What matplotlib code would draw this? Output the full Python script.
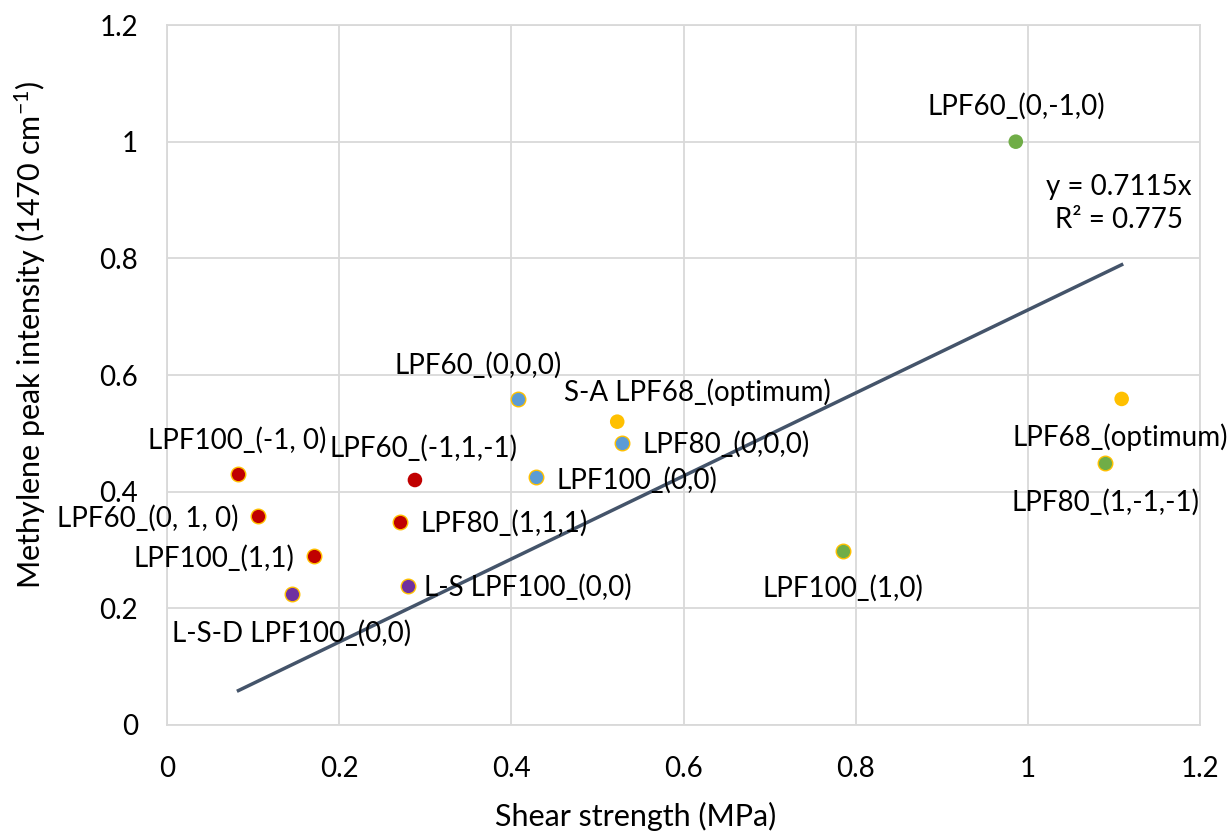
import matplotlib
matplotlib.use('Agg')
import matplotlib.pyplot as plt
import numpy as np

plt.rcParams['font.family'] = ['Lato', 'DejaVu Sans']
plt.rcParams['mathtext.fontset'] = 'custom'
plt.rcParams['mathtext.rm'] = 'Lato'
plt.rcParams['mathtext.it'] = 'Lato:italic'

# data
labels = ['LPF60_(0,-1,0)', 'LPF60_(0,0,0)', 'S-A LPF68_(optimum)', 'LPF80_(0,0,0)',
          'LPF100_(-1, 0)', 'LPF60_(-1,1,-1)', 'LPF100_(0,0)', 'LPF60_(0, 1, 0)',
          'LPF80_(1,1,1)', 'LPF100_(1,1)', 'L-S LPF100_(0,0)', 'L-S-D LPF100_(0,0)',
          'LPF100_(1,0)', 'LPF68_(optimum)', 'LPF80_(1,-1,-1)']
shear = [0.986, 0.408, 0.523, 0.529, 0.083, 0.288, 0.429, 0.106,
         0.271, 0.171, 0.280, 0.145, 0.785, 1.109, 1.090]
intensity = [1.000, 0.559, 0.520, 0.484, 0.430, 0.420, 0.425, 0.358,
             0.348, 0.290, 0.238, 0.225, 0.298, 0.559, 0.449]
groups = ['green', 'blue', 'yellow', 'blue', 'red', 'red', 'blue', 'red',
          'red', 'red', 'purple', 'purple', 'green', 'yellow', 'green']
slope = 0.7115
r2 = 0.775

colors = {'green': '#70AD47', 'blue': '#5B9BD5', 'yellow': '#FFC000',
          'red': '#C00000', 'purple': '#7030A0'}

# label offsets in pixels (dx, dy)
offsets = [(1, 35), (-40, 34), (80, 29), (104, -2), (-1, 34), (9, 32), (101, -3),
           (-111, -2), (104, -1), (-100, -2), (120, -1), (0, -40), (0, -37),
           (-1, -38), (0, -39)]
edged = [False, True, False, True, True, False, True, True,
         True, True, True, True, True, False, True]

fig = plt.figure(figsize=(12.29, 8.34), dpi=100)
ax = fig.add_axes([0.1359, 0.1307, 0.8405, 0.8393])

ax.set_xlim(0, 1.2)
ax.set_ylim(0, 1.2)
ax.set_xticks(np.arange(0, 1.21, 0.2))
ax.set_yticks(np.arange(0, 1.21, 0.2))
ax.set_xticklabels(['0', '0.2', '0.4', '0.6', '0.8', '1', '1.2'])
ax.set_yticklabels(['0', '0.2', '0.4', '0.6', '0.8', '1', '1.2'])
ax.grid(True, color='#D9D9D9', linewidth=1.3)
ax.set_axisbelow(True)
for s in ax.spines.values():
    s.set_color('#D9D9D9')
    s.set_linewidth(1.3)
ax.tick_params(length=0, labelsize=20, colors='#000000')
ax.tick_params(axis='y', pad=21)
ax.tick_params(axis='x', pad=22)

# trendline through origin
xl = np.array([min(shear), max(shear)])
ax.plot(xl, slope * xl, color='#44546A', linewidth=2.5, zorder=2)

for i in range(len(shear)):
    ax.scatter(shear[i], intensity[i], s=110, color=colors[groups[i]],
               edgecolors='#FFC000' if edged[i] else 'none', linewidths=1, zorder=3)
    ax.annotate(labels[i], (shear[i], intensity[i]), xytext=offsets[i],
                textcoords='offset pixels', ha='center', va='center', fontsize=20)

ax.text(0.9216, 0.7686, 'y = %.4fx' % slope, transform=ax.transAxes,
        ha='center', va='center', fontsize=20)
ax.text(0.9216, 0.7214, 'R² = %.3f' % r2, transform=ax.transAxes,
        ha='center', va='center', fontsize=20)

ax.set_xlabel('Shear strength (MPa)', fontsize=22)
ax.xaxis.set_label_coords(0.454, -0.131)
ax.xaxis.label.set_va('center')
ax.set_ylabel('Methylene peak intensity (1470 cm$^{-1}$)', fontsize=22)
ax.yaxis.set_label_coords(-0.1326, 0.557)
ax.yaxis.label.set_va('center')

fig.savefig('out.png', dpi=100)
